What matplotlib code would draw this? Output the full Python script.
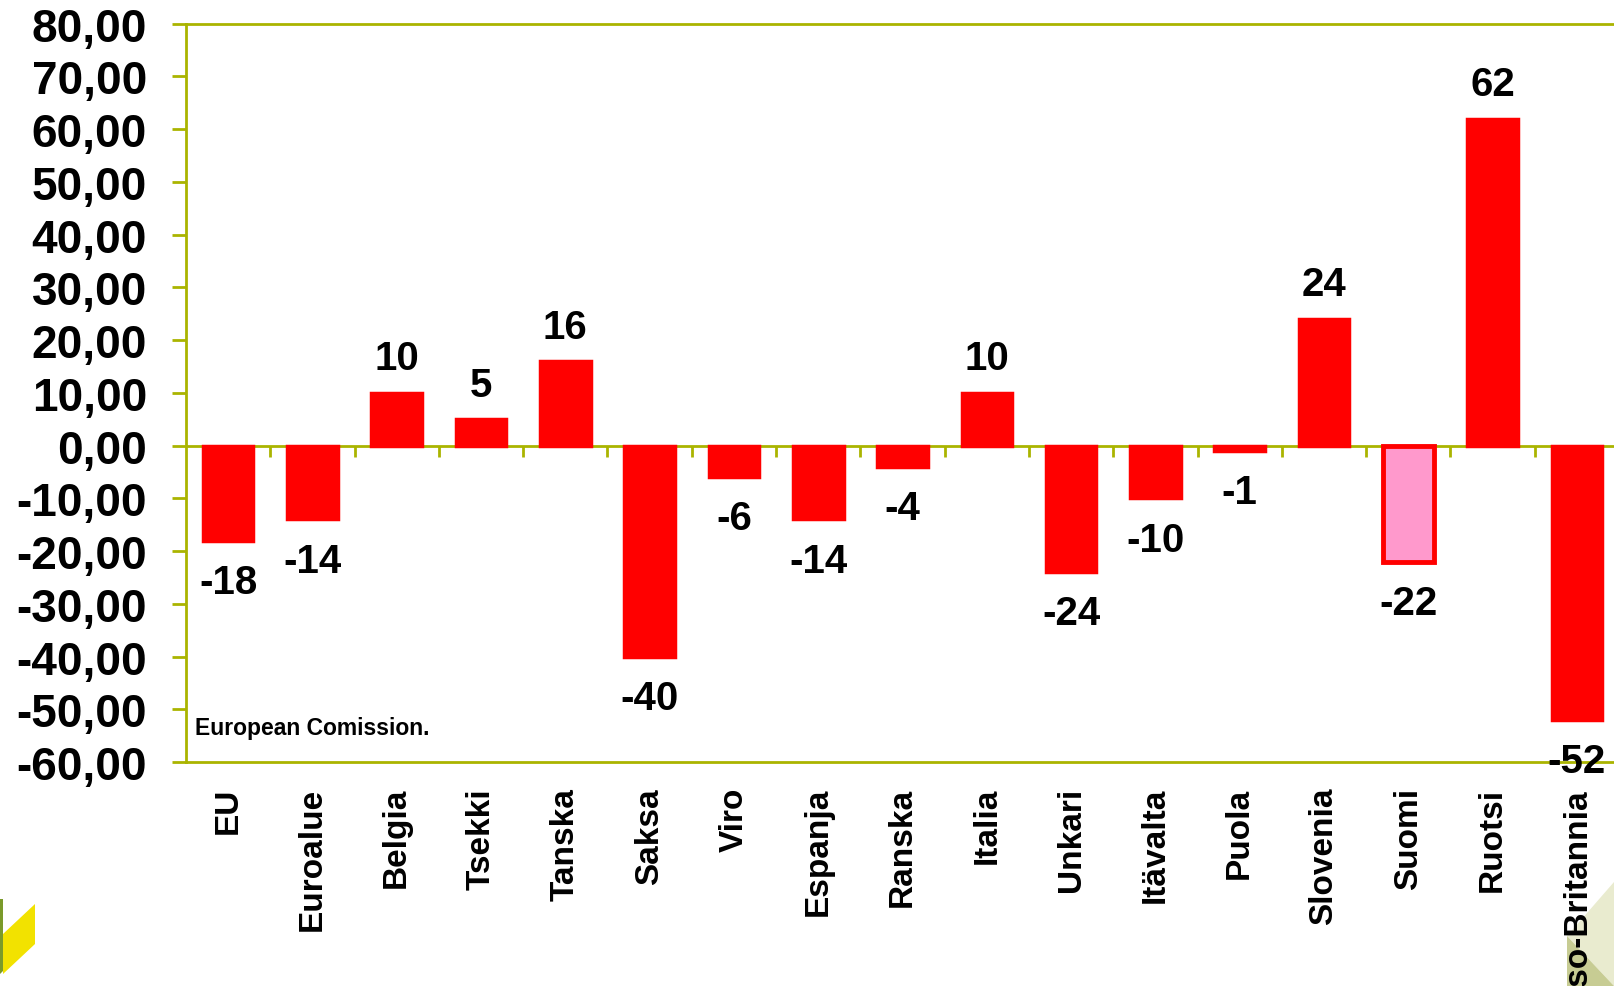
import matplotlib.pyplot as plt
from matplotlib.patches import Polygon

countries = ['EU', 'Euroalue', 'Belgia', 'Tsekki', 'Tanska', 'Saksa', 'Viro', 'Espanja',
             'Ranska', 'Italia', 'Unkari', 'Itävalta', 'Puola', 'Slovenia', 'Suomi',
             'Ruotsi', 'Iso-Britannia']
values = [-18, -14, 10, 5, 16, -40, -6, -14, -4, 10, -24, -10, -1, 24, -22, 62, -52]
highlight = 'Suomi'

yticks = list(range(-60, 81, 10))

plt.rcParams['font.family'] = ['Liberation Sans', 'DejaVu Sans']
plt.rcParams['font.weight'] = 'bold'

green = '#AAB400'
W, H = 1614, 987
fig = plt.figure(figsize=(W / 100, H / 100), dpi=100)
ax = fig.add_axes([186 / W, 1 - 763 / H, 17 * 84.3 / W, (763 - 24.7) / H])

x = list(range(len(countries)))
face = ['#FF99CC' if c == highlight else '#FF0000' for c in countries]
lw = [3.5 if c == highlight else 2.5 for c in countries]
ax.bar(x, values, width=0.6, color=face, edgecolor='#FF0000', linewidth=lw, zorder=3)

for xi, v in zip(x, values):
    if v >= 0:
        ax.annotate(f'{v}', (xi, v), xytext=(0, 17), textcoords='offset points',
                    ha='center', va='baseline', fontsize=29, fontweight='bold', zorder=5)
    else:
        ax.annotate(f'{v}', (xi, v), xytext=(0, -16), textcoords='offset points',
                    ha='center', va='top', fontsize=29, fontweight='bold', zorder=5)

ax.set_xlim(-0.5, len(countries) - 0.5)
ax.set_ylim(-60, 80)
ax.set_yticks(yticks)
ax.set_yticklabels([f'{t:.2f}'.replace('.', ',') for t in yticks], fontsize=33, fontweight='bold')
ax.set_xticks(x)
ax.set_xticklabels(countries, rotation=90, fontsize=24, fontweight='bold')
ax.tick_params(axis='x', length=0, pad=18)
ax.tick_params(axis='y', length=10, width=2, color=green, pad=18)

for s in ['left', 'top', 'bottom']:
    ax.spines[s].set_color(green)
    ax.spines[s].set_linewidth(2)
ax.spines['right'].set_visible(False)

# zero line with category-boundary ticks
ax.axhline(0, color=green, linewidth=2, zorder=2)
zero_pos = (0 - ax.get_ylim()[0]) / (ax.get_ylim()[1] - ax.get_ylim()[0])
sec = ax.secondary_xaxis(zero_pos)
sec.set_xticks([i + 0.5 for i in x])
sec.set_xticklabels([])
sec.tick_params(length=8, width=2, color=green, direction='out')
sec.spines['bottom'].set_visible(False)

ax.text(0.006, -53.5, 'European Comission.', fontsize=16.5, fontweight='bold',
        transform=ax.get_yaxis_transform(), va='center', ha='left')

# corner decorations
def fp(pts):
    return [(px / W, 1 - py / H) for px, py in pts]

fig.add_artist(Polygon(fp([(0, 900), (3, 900), (3, 972), (0, 975)]), closed=True,
                       facecolor='#7A9A2A', edgecolor='none', transform=fig.transFigure))
fig.add_artist(Polygon(fp([(3, 935), (35, 905), (35, 945), (3, 975)]), closed=True,
                       facecolor='#F2E200', edgecolor='none', transform=fig.transFigure))
fig.add_artist(Polygon(fp([(1614, 883), (1567, 937), (1614, 987)]), closed=True,
                       facecolor='#E9EBCF', edgecolor='none', transform=fig.transFigure, zorder=0))
fig.add_artist(Polygon(fp([(1567, 937), (1614, 987), (1567, 987)]), closed=True,
                       facecolor='#C7CC93', edgecolor='none', transform=fig.transFigure, zorder=0))

fig.savefig('out.png', dpi=100)
